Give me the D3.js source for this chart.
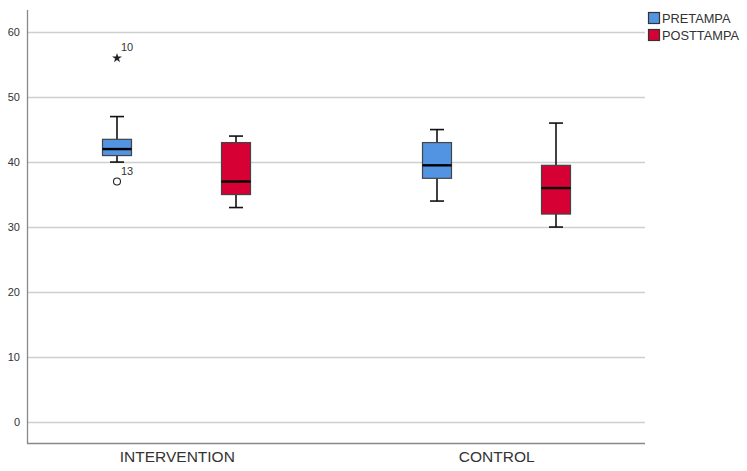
<!DOCTYPE html>
<html><head><meta charset="utf-8">
<script src="https://cdn.jsdelivr.net/npm/d3@7"></script>
<style>body{margin:0;background:#fff}svg{display:block;font-family:Arial,"Liberation Sans",sans-serif}</style>
</head><body><svg id="c" width="747" height="471"></svg>
<script>
const groups = ["INTERVENTION", "CONTROL"];
const series = ["PRETAMPA", "POSTTAMPA"];
const colors = ["#5294E2", "#D70034"];
// [min, q1, median, q3, max]
const pretampa = [[40, 41, 42, 43.5, 47], [34, 37.5, 39.5, 43, 45]];
const posttampa = [[33, 35, 37, 43, 44], [30, 32, 36, 39.5, 46]];
const outliers = [
  {group: "INTERVENTION", series: "PRETAMPA", value: 56, type: "extreme", label: "10"},
  {group: "INTERVENTION", series: "PRETAMPA", value: 37, type: "outlier", label: "13"}
];
const yTicks = [0, 10, 20, 30, 40, 50, 60];

const svg = d3.select("#c");
const L = 27, R = 645, T = 10, B = 443;
const y = d3.scaleLinear().domain([-3.23, 63.4]).range([B, T]);
const x = d3.scalePoint().domain(groups).range([L + 1, R]).padding(0.466);
const xs = d3.scalePoint().domain(series).range([-59.5, 59.5]);
const boxW = 29, capW = 14;

// gridlines
svg.append("g").selectAll("line").data(yTicks).join("line")
  .attr("x1", L + 1).attr("x2", R).attr("y1", d => Math.round(y(d)) + 0.5).attr("y2", d => Math.round(y(d)) + 0.5)
  .attr("stroke", "#cfcfcf").attr("stroke-width", 1.3);

// y axis
const ya = svg.append("g").attr("transform", `translate(${L},0)`)
  .call(d3.axisLeft(y).tickValues(yTicks).tickSize(0).tickPadding(7));
ya.select(".domain").remove();
ya.selectAll("text").attr("font-size", 11).attr("fill", "#333");
svg.append("line").attr("x1", L + 0.5).attr("x2", L + 0.5).attr("y1", T).attr("y2", B + 0.5).attr("stroke", "#888").attr("stroke-width", 1.3);
svg.append("line").attr("x1", L).attr("x2", R).attr("y1", B + 0.5).attr("y2", B + 0.5).attr("stroke", "#888").attr("stroke-width", 1.3);

// x axis labels
const xa = svg.append("g").attr("transform", `translate(0,${B})`)
  .call(d3.axisBottom(x).tickSize(0).tickPadding(8));
xa.select(".domain").remove();
xa.selectAll("text").attr("font-size", 15.5).attr("fill", "#333");

const allData = [pretampa, posttampa];
series.forEach((s, si) => {
  groups.forEach((g, gi) => {
    const [mn, q1, md, q3, mx] = allData[si][gi];
    const cx = Math.round(x(g) + xs(s));
    const gg = svg.append("g");
    gg.append("line").attr("x1", cx).attr("x2", cx).attr("y1", y(mx)).attr("y2", y(q3)).attr("stroke", "#111").attr("stroke-width", 1.6);
    gg.append("line").attr("x1", cx).attr("x2", cx).attr("y1", y(q1)).attr("y2", y(mn)).attr("stroke", "#111").attr("stroke-width", 1.6);
    gg.append("line").attr("x1", cx - capW / 2).attr("x2", cx + capW / 2).attr("y1", y(mx)).attr("y2", y(mx)).attr("stroke", "#111").attr("stroke-width", 1.6);
    gg.append("line").attr("x1", cx - capW / 2).attr("x2", cx + capW / 2).attr("y1", y(mn)).attr("y2", y(mn)).attr("stroke", "#111").attr("stroke-width", 1.6);
    gg.append("rect").attr("x", cx - boxW / 2).attr("width", boxW).attr("y", y(q3)).attr("height", y(q1) - y(q3))
      .attr("fill", colors[si]).attr("stroke", "#444").attr("stroke-width", 1.2);
    gg.append("line").attr("x1", cx - boxW / 2).attr("x2", cx + boxW / 2).attr("y1", y(md)).attr("y2", y(md)).attr("stroke", "#000").attr("stroke-width", 2.4);
  });
});

outliers.forEach(o => {
  const cx = Math.round(x(o.group) + xs(o.series));
  const cy = y(o.value);
  if (o.type === "outlier") {
    svg.append("circle").attr("cx", cx).attr("cy", cy).attr("r", 3.5).attr("fill", "none").attr("stroke", "#222").attr("stroke-width", 1.1);
  } else {
    svg.append("path").attr("d", d3.symbol(d3.symbolStar, 30)()).attr("transform", `translate(${cx},${cy})`).attr("fill", "#222");
  }
  svg.append("text").attr("x", cx + 4).attr("y", cy - 7).attr("font-size", 11).attr("fill", "#333").text(o.label);
});

// legend
const lg = svg.append("g");
series.forEach((s, i) => {
  const yy = 12 + i * 17;
  lg.append("rect").attr("x", 648.5).attr("y", yy + 0.5).attr("width", 11).attr("height", 11).attr("fill", colors[i]).attr("stroke", "#333").attr("stroke-width", 1.2);
  lg.append("text").attr("x", 662).attr("y", yy + 11).attr("font-size", 12.8).attr("fill", "#333").text(s);
});
</script></body></html>
